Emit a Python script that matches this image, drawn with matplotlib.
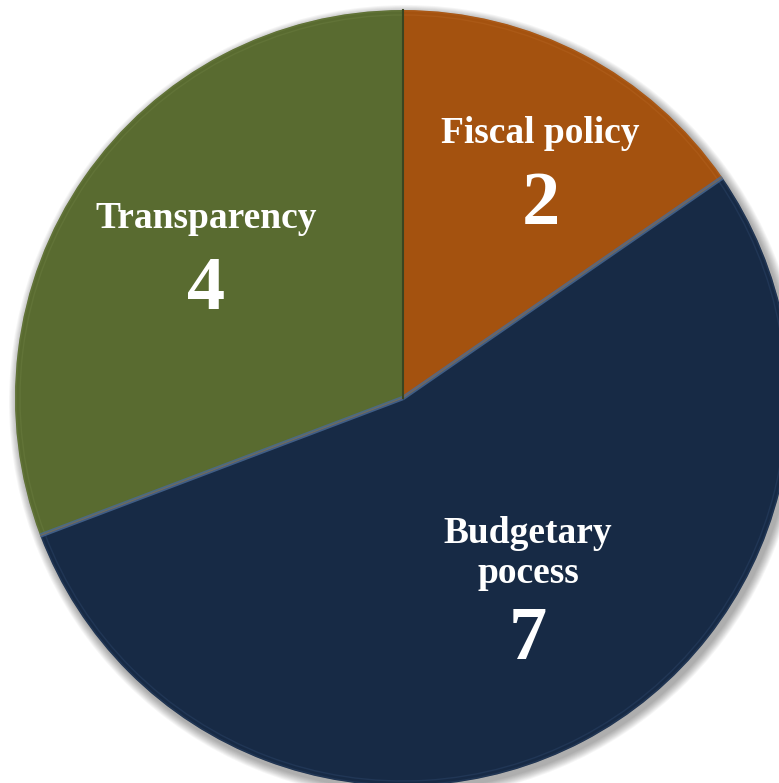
import numpy as np
import matplotlib
matplotlib.use("Agg")
import matplotlib.pyplot as plt
from matplotlib.patches import Circle, Wedge

# Data
categories = ["Fiscal policy", "Budgetary\npocess", "Transparency"]
values = [2, 7, 4]
colors = ["#A4520F", "#172A45", "#596B30"]
rim_colors = ["#C0702E", "#3D5A85", "#7A8C4E"]

W, H = 779, 783
fig = plt.figure(figsize=(W / 100, H / 100), dpi=100)
ax = fig.add_axes([0, 0, 1, 1])

R = 388
cx, cy = 0, 0

# soft drop shadow beneath the pie
for k in range(10, 0, -1):
    ax.add_patch(Circle((cx + 3, cy - 4), R + k * 0.9, facecolor="#000000",
                        alpha=0.035, edgecolor="none", zorder=0))

wedges, _ = ax.pie(values, colors=colors, startangle=90, counterclock=False,
                   radius=R, center=(cx, cy),
                   wedgeprops=dict(edgecolor="none", linewidth=0))
for w in wedges:
    w.set_zorder(1)

# faint bevel highlight along each slice rim
for w, rc in zip(wedges, rim_colors):
    ax.add_patch(Wedge((cx, cy), R - 1, w.theta1, w.theta2, width=4,
                       facecolor="none", edgecolor=rc, linewidth=1.0,
                       alpha=0.25, zorder=2))

# light bevel on the budgetary slice's straight edges
bud = wedges[1]
for ang in (bud.theta1, bud.theta2):
    a = np.deg2rad(ang)
    dx, dy = np.cos(a), np.sin(a)
    ax.plot([cx, cx + R * dx], [cy, cy + R * dy], color="#4A6A96",
            linewidth=3.2, alpha=0.8, solid_capstyle="butt", zorder=3)
    ax.plot([cx, cx + R * dx], [cy, cy + R * dy], color="#8A6A40",
            linewidth=0.8, alpha=0.6, solid_capstyle="butt", zorder=3)

# dark seam between the fiscal and transparency slices
a = np.deg2rad(wedges[0].theta2)
ax.plot([cx, cx + R * np.cos(a)], [cy, cy + R * np.sin(a)], color="#3A4520",
        linewidth=1.5, zorder=3)

ax.set_xlim(-403, W - 403)
ax.set_ylim(-(H - 398), 398)
ax.set_aspect("equal")
ax.axis("off")

font = ["Liberation Serif", "DejaVu Serif"]
name_pos = [(0.694, 0.830), (0.678, 0.293), (0.265, 0.721)]
num_pos = [(0.694, 0.738), (0.678, 0.182), (0.265, 0.629)]
for cat, val, (nx, ny), (vx, vy) in zip(categories, values, name_pos, num_pos):
    ax.text(nx, ny, cat, transform=ax.transAxes, ha="center", va="center",
            fontsize=27, fontweight="bold", color="white", family=font,
            linespacing=1.2)
    ax.text(vx, vy, str(val), transform=ax.transAxes, ha="center", va="center",
            fontsize=55, fontweight="bold", color="white", family=font)

fig.savefig("out.png", dpi=100, facecolor="white")
